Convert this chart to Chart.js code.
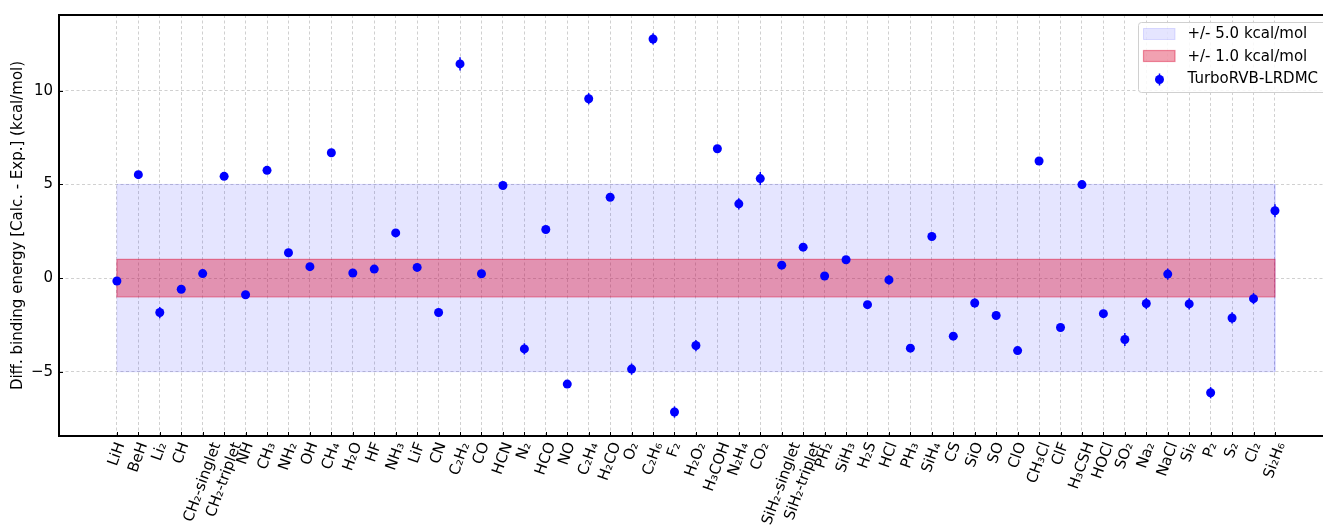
<!DOCTYPE html>
<html><head><meta charset="utf-8">
<script src="https://cdn.jsdelivr.net/npm/chart.js@4/dist/chart.umd.min.js"></script>
<style>html,body{margin:0;padding:0;background:#fff;overflow:hidden}#wrap{width:1323px;height:527px;position:relative}canvas{display:block}</style>
</head><body><div id="wrap"><canvas id="c" width="1323" height="527"></canvas></div>
<script>
const categories = ['LiH','BeH','Li₂','CH','CH₂-singlet','CH₂-triplet','NH','CH₃','NH₂','OH','CH₄','H₂O','HF','NH₃','LiF','CN','C₂H₂','CO','HCN','N₂','HCO','NO','C₂H₄','H₂CO','O₂','C₂H₆','F₂','H₂O₂','H₃COH','N₂H₄','CO₂','SiH₂-singlet','SiH₂-triplet','PH₂','SiH₃','H₂S','HCl','PH₃','SiH₄','CS','SiO','SO','ClO','CH₃Cl','ClF','H₃CSH','HOCl','SO₂','Na₂','NaCl','Si₂','P₂','S₂','Cl₂','Si₂H₆'];
const values = [-0.16,5.52,-1.84,-0.60,0.24,5.43,-0.89,5.75,1.35,0.61,6.69,0.27,0.48,2.41,0.57,-1.84,11.43,0.23,4.94,-3.78,2.59,-5.66,9.57,4.31,-4.86,12.76,-7.15,-3.60,6.90,3.96,5.31,0.69,1.65,0.11,0.98,-1.42,-0.10,-3.74,2.22,-3.10,-1.33,-2.00,-3.87,6.25,-2.64,4.99,-1.90,-3.28,-1.36,0.21,-1.38,-6.12,-2.13,-1.10,3.59];
const errors = [0.15,0.15,0.30,0.15,0.15,0.15,0.15,0.15,0.15,0.15,0.15,0.15,0.15,0.15,0.15,0.20,0.35,0.15,0.15,0.30,0.15,0.15,0.30,0.20,0.30,0.30,0.30,0.30,0.20,0.30,0.35,0.15,0.15,0.15,0.15,0.15,0.25,0.15,0.15,0.15,0.25,0.20,0.20,0.20,0.20,0.20,0.20,0.35,0.30,0.30,0.30,0.30,0.30,0.30,0.35];
const yTicks = [-5, 0, 5, 10];
const bandOuter = 5.0;
const bandInner = 1.0;
const legendLabels = ['+/- 5.0 kcal/mol', '+/- 1.0 kcal/mol', 'TurboRVB-LRDMC'];
const yTitle = 'Diff. binding energy [Calc. - Exp.] (kcal/mol)';

const FONT = 'DejaVu Sans';
const FS = 15;
const last = categories.length - 1;
function bandShape(h) {
  return [{x:0,y:h},{x:last,y:h},{x:last,y:-h},{x:0,y:-h},{x:0,y:h}];
}
const BLUE_FILL = 'rgba(0,0,255,0.1)';
const BLUE_EDGE = 'rgba(0,0,255,0.1)';
const PINK_FILL = 'rgba(220,20,60,0.4)';
const PINK_EDGE = 'rgba(220,20,60,0.45)';

const errorBars = {
  id: 'errorBars',
  beforeDatasetDraw(chart, args) {
    if (args.index !== 0) return;
    const xs = chart.scales.x, ys = chart.scales.y, ctx = chart.ctx;
    ctx.save();
    ctx.strokeStyle = '#0000ff';
    ctx.lineWidth = 1.5;
    categories.forEach((c, i) => {
      const px = xs.getPixelForValue(i);
      ctx.beginPath();
      ctx.moveTo(px, ys.getPixelForValue(values[i] - errors[i]));
      ctx.lineTo(px, ys.getPixelForValue(values[i] + errors[i]));
      ctx.stroke();
    });
    ctx.restore();
  }
};

const centerLabels = {
  id: 'centerLabels',
  beforeDraw(chart) {
    const s = chart.scales.x;
    const items = s.getLabelItems(chart.chartArea);
    const ctx = chart.ctx;
    items.forEach(it => {
      if (it._adj) return;
      ctx.save();
      ctx.font = it.font.string;
      const L = ctx.measureText(String(it.label)).width;
      ctx.restore();
      it.options.translation[0] += 0.171 * L;
      it._adj = true;
    });
  }
};

const frameAndLegend = {
  id: 'frameAndLegend',
  afterDraw(chart) {
    const ctx = chart.ctx, a = chart.chartArea;
    const xs = chart.scales.x, ys = chart.scales.y;
    ctx.save();
    ctx.strokeStyle = '#000';
    ctx.lineWidth = 1;
    categories.forEach((c, i) => {
      const px = Math.round(xs.getPixelForValue(i)) + 0.5;
      ctx.beginPath(); ctx.moveTo(px, a.bottom); ctx.lineTo(px, a.bottom - 4); ctx.stroke();
    });
    yTicks.forEach(v => {
      const py = Math.round(ys.getPixelForValue(v)) + 0.5;
      ctx.beginPath(); ctx.moveTo(a.left, py); ctx.lineTo(a.left + 4, py); ctx.stroke();
    });
    ctx.lineWidth = 2;
    ctx.beginPath(); ctx.moveTo(a.left - 1, a.top); ctx.lineTo(a.right, a.top); ctx.stroke();

    const bx = 1138.5, by = 22.5, bw = 200, bh = 70, r = 3;
    ctx.beginPath();
    ctx.moveTo(bx + r, by);
    ctx.lineTo(bx + bw - r, by);
    ctx.arcTo(bx + bw, by, bx + bw, by + r, r);
    ctx.lineTo(bx + bw, by + bh - r);
    ctx.arcTo(bx + bw, by + bh, bx + bw - r, by + bh, r);
    ctx.lineTo(bx + r, by + bh);
    ctx.arcTo(bx, by + bh, bx, by + bh - r, r);
    ctx.lineTo(bx, by + r);
    ctx.arcTo(bx, by, bx + r, by, r);
    ctx.closePath();
    ctx.fillStyle = 'rgba(255,255,255,0.85)';
    ctx.fill();
    ctx.strokeStyle = '#d0d0d0';
    ctx.lineWidth = 1;
    ctx.stroke();

    ctx.fillStyle = BLUE_FILL; ctx.fillRect(1143.5, 28.5, 31.5, 11);
    ctx.strokeStyle = 'rgba(0,0,255,0.12)'; ctx.strokeRect(1143.5, 28.5, 31.5, 11);
    ctx.fillStyle = PINK_FILL; ctx.fillRect(1143.5, 50.5, 31.5, 11);
    ctx.strokeStyle = PINK_EDGE; ctx.lineWidth = 1.2; ctx.strokeRect(1143.5, 50.5, 31.5, 11);
    ctx.strokeStyle = '#0000ff'; ctx.lineWidth = 1.5;
    ctx.beginPath(); ctx.moveTo(1159.5, 73.5); ctx.lineTo(1159.5, 85.5); ctx.stroke();
    ctx.fillStyle = '#0000ff';
    ctx.beginPath(); ctx.arc(1159.5, 79.5, 4.5, 0, Math.PI * 2); ctx.fill();

    ctx.fillStyle = '#000';
    ctx.font = FS + 'px "' + FONT + '"';
    ctx.textBaseline = 'middle';
    ctx.textAlign = 'left';
    const rowsY = [34.5, 57, 79.5];
    legendLabels.forEach((t, i) => ctx.fillText(t, 1187.5, rowsY[i]));
    ctx.restore();
  }
};

new Chart(document.getElementById('c'), {
  type: 'scatter',
  data: {
    datasets: [
      {
        type: 'scatter',
        label: legendLabels[2],
        data: categories.map((c, i) => ({x: i, y: values[i]})),
        backgroundColor: '#0000ff',
        borderWidth: 0,
        pointRadius: 4.5,
        pointHoverRadius: 4.5,
        order: 0
      },
      {
        type: 'line',
        label: legendLabels[1],
        data: bandShape(bandInner),
        showLine: true,
        fill: 'shape',
        backgroundColor: PINK_FILL,
        borderColor: PINK_EDGE,
        borderWidth: 1.2,
        pointRadius: 0,
        tension: 0,
        order: 1
      },
      {
        type: 'line',
        label: legendLabels[0],
        data: bandShape(bandOuter),
        showLine: true,
        fill: 'shape',
        backgroundColor: BLUE_FILL,
        borderColor: BLUE_EDGE,
        borderWidth: 1,
        pointRadius: 0,
        tension: 0,
        order: 2
      }
    ]
  },
  options: {
    responsive: false,
    animation: false,
    devicePixelRatio: 1,
    events: [],
    layout: { padding: { top: 14, left: 0, right: 0, bottom: 0 }, autoPadding: false },
    plugins: { legend: { display: false }, tooltip: { enabled: false } },
    scales: {
      x: {
        type: 'linear',
        min: -2.7,
        max: 56.24,
        afterBuildTicks: s => { s.ticks = categories.map((c, i) => ({value: i})); },
        afterFit: s => { s.height = 91; },
        ticks: {
          autoSkip: false,
          minRotation: 70,
          maxRotation: 70,
          padding: 4,
          color: '#000',
          font: { family: FONT, size: FS },
          callback: v => categories[v]
        },
        grid: { display: true, drawTicks: false, color: 'rgba(170,170,170,0.7)', lineWidth: 0.8 },
        border: { display: true, color: '#000', width: 2, dash: [3, 2.5] }
      },
      y: {
        type: 'linear',
        min: -8.43,
        max: 14.04,
        afterBuildTicks: s => { s.ticks = yTicks.map(v => ({value: v})); },
        afterFit: s => { s.width = 59; },
        ticks: {
          padding: 6,
          color: '#000',
          font: { family: FONT, size: FS },
          callback: v => (v < 0 ? '\u2212' + Math.abs(v) : String(v))
        },
        title: {
          display: true,
          text: yTitle,
          color: '#000',
          font: { family: FONT, size: FS },
          padding: { top: 9, bottom: 0 }
        },
        grid: { display: true, drawTicks: false, color: 'rgba(170,170,170,0.7)', lineWidth: 0.8 },
        border: { display: true, color: '#000', width: 2, dash: [3, 2.5] }
      }
    }
  },
  plugins: [errorBars, centerLabels, frameAndLegend]
});
</script>
</body></html>
